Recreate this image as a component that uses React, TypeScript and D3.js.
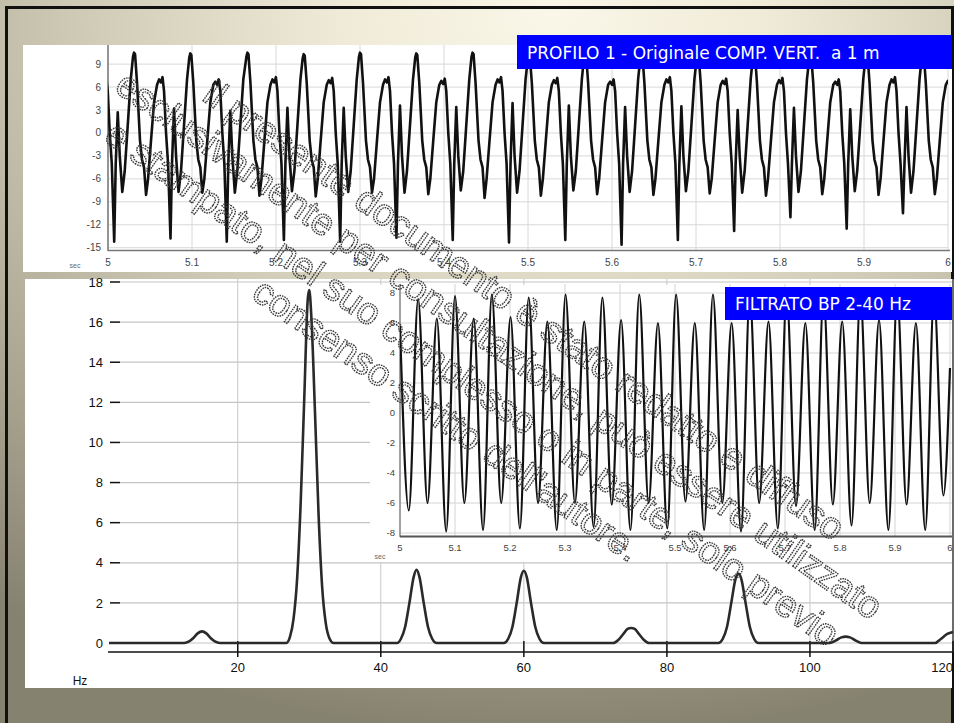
import React from 'react';
import * as d3 from 'd3';

// ---------------- DATA ----------------
// Top panel: raw vertical component (time in s, amplitude)
const rawTicksX = [5, 5.1, 5.2, 5.3, 5.4, 5.5, 5.6, 5.7, 5.8, 5.9, 6];
const rawTickLabelsX = ['5', '5.1', '5.2', '5.3', '5.4', '5.5', '5.6', '5.7', '5.8', '5.9', '6'];
const rawTicksY = [-15, -12, -9, -6, -3, 0, 3, 6, 9];

// times of the tall peaks of each 15 Hz cycle, and the key levels read in each cycle
const rawCycleTimes = [4.964, 5.031, 5.098, 5.166, 5.233, 5.300, 5.367, 5.434, 5.501, 5.568, 5.635, 5.702, 5.769, 5.836, 5.903, 5.970];
const rawTall = [10.3, 10.5, 10.4, 10.5, 10.3, 10.5, 10.4, 10.5, 10.2, 10.5, 10.4, 10.3, 10.5, 10.2, 10.4, 10.5];
const rawMid = [7.2, 7.3, 7.0, 7.3, 7.2, 7.3, 7.1, 7.3, 7.2, 7.0, 7.3, 7.1, 7.2, 7.0, 7.3, 7.1];
const rawDeep = [-14.2, -13.8, -14.2, -14.0, -14.2, -13.7, -14.0, -14.3, -14.0, -14.6, -14.0, -12.8, -11.0, -12.5, -10.5, -11.5];
const rawUp = [2.7, 3.2, 2.9, 3.3, 3.3, 3.6, 3.4, 3.9, 3.6, 3.4, 3.5, 3.0, 3.3, 3.1, 3.4, 3.0];
const rawTroughA = [-8.0, -8.1, -7.8, -8.2, -8.3, -7.8, -8.0, -8.5, -8.2, -8.0, -8.1, -7.9, -8.2, -8.0, -8.1, -8.0];
const rawTroughB = [-7.7, -7.7, -7.8, -7.6, -7.7, -7.8, -7.5, -7.8, -7.5, -7.7, -7.6, -7.8, -7.7, -7.6, -7.8, -7.7];
// vertices of one cycle: [ms after tall peak, level key ('' = fixed), value / offset]
const rawCycleShape: [number, string, number][] = [
  [-1.2, 'tall', -0.5], [0, 'tall', 0], [1.2, 'tall', -0.2], [3.6, '', 6.5], [7.1, '', -1],
  [9.5, '', -3.5], [11.9, '', -4.5], [14.3, 'tA', 0], [16.7, '', -6], [20.2, '', -1],
  [23.8, '', 4], [27.4, '', 6.3], [29.8, 'mid', -0.3], [32.1, 'mid', -0.7], [33.9, 'mid', 0],
  [35.7, '', 5.5], [38.1, '', 0], [40.5, '', -4], [43.4, 'deep', 0], [45.2, '', -4],
  [47.6, 'up', 0], [50.0, '', -3], [53.0, 'tB', 0], [55.9, '', -5], [59.5, '', 1], [63.1, '', 7],
];

// Bottom panel: spectrum (Hz, amplitude)
const specTicksX = [20, 40, 60, 80, 100, 120];
const specTicksY = [0, 2, 4, 6, 8, 10, 12, 14, 16, 18];
const spectrumHz = [
  2, 12.5, 13.2, 13.8, 14.4, 15, 15.6, 16.2, 16.8, 17.5,
  26.8, 27.3, 27.8, 28.3, 28.8, 29.3, 29.8, 30.0, 30.3, 30.8, 31.3, 31.8, 32.3, 32.8, 33.4,
  42.3, 42.8, 43.4, 44.0, 44.6, 45.0, 45.4, 46.0, 46.6, 47.2, 47.8,
  57.2, 57.8, 58.4, 59.0, 59.6, 60.0, 60.4, 61.0, 61.6, 62.2, 62.8,
  72.5, 73.2, 73.9, 74.5, 75.0, 75.5, 76.1, 76.8, 77.5,
  87.2, 87.8, 88.4, 89.0, 89.6, 90.0, 90.4, 91.0, 91.6, 92.2, 92.8,
  102.8, 103.6, 104.4, 105.0, 105.6, 106.4, 107.2,
  117.5, 118.3, 119.2, 120,
];
const spectrumAmp = [
  0, 0, 0.08, 0.25, 0.48, 0.58, 0.48, 0.25, 0.08, 0,
  0, 0.3, 1.2, 3.2, 7.0, 12.2, 17.2, 17.6, 16.2, 11.5, 6.4, 2.8, 1.0, 0.25, 0,
  0, 0.2, 0.8, 2.0, 3.3, 3.65, 3.3, 2.0, 0.8, 0.2, 0,
  0, 0.2, 0.8, 2.0, 3.3, 3.6, 3.3, 2.0, 0.8, 0.2, 0,
  0, 0.15, 0.45, 0.7, 0.75, 0.7, 0.45, 0.15, 0,
  0, 0.2, 0.8, 2.0, 3.2, 3.45, 3.2, 2.0, 0.8, 0.2, 0,
  0, 0.12, 0.28, 0.32, 0.28, 0.12, 0,
  0, 0.2, 0.45, 0.55,
];

// Inset: band-pass filtered signal (extrema)
const filtTicksY = [-8, -6, -4, -2, 0, 2, 4, 6, 8];
const filtTimes = [
  5.0, 5.016, 5.033, 5.050, 5.067, 5.084, 5.100, 5.117, 5.134, 5.151, 5.167, 5.184, 5.201, 5.218, 5.234,
  5.251, 5.268, 5.285, 5.301, 5.318, 5.335, 5.352, 5.368, 5.385, 5.402, 5.419, 5.435, 5.452, 5.469, 5.486,
  5.502, 5.519, 5.536, 5.553, 5.569, 5.586, 5.603, 5.620, 5.636, 5.653, 5.670, 5.687, 5.703, 5.720, 5.737,
  5.754, 5.770, 5.787, 5.804, 5.821, 5.837, 5.854, 5.871, 5.888, 5.904, 5.921, 5.938, 5.955, 5.971, 5.988, 6.0,
];
const filtValues = [
  5.8, -6.5, 7.6, -6.0, 6.3, -7.9, 7.8, -6.0, 6.3, -7.8, 7.9, -6.0, 6.4, -7.7, 7.7,
  -6.0, 6.1, -7.8, 7.9, -6.0, 6.1, -7.6, 7.7, -6.1, 6.2, -7.8, 7.9, -6.0, 6.0, -7.7,
  7.9, -5.9, 6.0, -7.8, 7.9, -6.0, 6.0, -7.9, 7.8, -6.0, 6.1, -7.7, 7.9, -6.2, 6.0,
  -7.8, 7.8, -6.1, 6.1, -7.5, 7.8, -6.0, 6.2, -7.8, 7.9, -6.1, 6.0, -7.8, 7.8, -5.5, 3.0,
];

const titleTop = 'PROFILO 1 - Originale COMP. VERT.  a 1 m';
const titleFilt = 'FILTRATO BP 2-40 Hz';
const watermarkLines = [
  'Il presente documento è stato redatto e diffuso',
  'esclusivamente per consultazione, può essere utilizzato',
  'e stampato, nel suo complesso o in parte, solo previo',
  "consenso scritto dell'autore.",
];

// ---------------- BUILD ----------------
function buildRaw(): [number, number][] {
  const pts: [number, number][] = [];
  const levels: Record<string, number[]> = {
    tall: rawTall, mid: rawMid, deep: rawDeep, up: rawUp, tA: rawTroughA, tB: rawTroughB,
  };
  rawCycleTimes.forEach((t0, i) => {
    rawCycleShape.forEach(([ms, key, v]) => {
      const val = key ? levels[key][i] + v : v;
      pts.push([t0 + ms / 1000, val]);
    });
  });
  pts.sort((a, b) => a[0] - b[0]);
  return pts;
}

export default function App() {
  // scales
  const xRaw = d3.scaleLinear().domain([5, 6]).range([108, 948]);
  const yRaw = d3.scaleLinear().domain([-15.3, 11.5]).range([250, 45]);
  const xSp = d3.scaleLinear().domain([2, 120]).range([109, 953]);
  const ySp = d3.scaleLinear().domain([0, 18]).range([643, 282]);
  const xIn = d3.scaleLinear().domain([5, 6]).range([400, 950]);
  const yIn = d3.scaleLinear().domain([-8, 8]).range([533, 293]);

  const rawPts = buildRaw();
  const rawPath = d3.line<[number, number]>().x(d => xRaw(d[0])).y(d => yRaw(d[1]))(rawPts) || '';
  const specPath = d3.line<number>()
    .x((_, i) => xSp(spectrumHz[i]))
    .y(d => ySp(d))
    .curve(d3.curveMonotoneX)(spectrumAmp) || '';
  const filtPath = d3.line<number>()
    .x((_, i) => xIn(filtTimes[i]))
    .y(d => yIn(d))
    .curve(d3.curveMonotoneX)(filtValues) || '';

  const deg = 35;
  const rad = (deg * Math.PI) / 180;
  const dx = Math.cos(rad), dy = Math.sin(rad);
  const nx = -Math.sin(rad), ny = Math.cos(rad);
  const along = 607;
  const normals = [-47, -4, 43, 87];

  const tickFont = "'Liberation Sans', Arial, sans-serif";

  return (
    <svg width={954} height={723} style={{ position: 'absolute', left: 0, top: 0 }}
      xmlns="http://www.w3.org/2000/svg">
      <defs>
        <radialGradient id="bg" cx="0.58" cy="0.02" r="1.0" fx="0.58" fy="0.02">
          <stop offset="0" stopColor="#faf7e9" />
          <stop offset="0.22" stopColor="#f0ebd8" />
          <stop offset="0.5" stopColor="#cfcab5" />
          <stop offset="0.78" stopColor="#a6a28e" />
          <stop offset="1" stopColor="#868270" />
        </radialGradient>
        <filter id="gray" x="0" y="0" width="954" height="723" filterUnits="userSpaceOnUse">
          <feColorMatrix type="saturate" values="0" />
        </filter>
        <clipPath id="clipRaw"><rect x={108} y={45} width={840} height={205} /></clipPath>
        <clipPath id="clipIn"><rect x={400} y={284} width={552} height={252} /></clipPath>
        <clipPath id="clipSp"><rect x={109} y={279} width={845} height={373} /></clipPath>
      </defs>

      {/* slide background */}
      <rect x={0} y={0} width={954} height={723} fill="url(#bg)" />
      <rect x={6.5} y={7.5} width={946} height={730} fill="none" stroke="#111" strokeWidth={3} />

      {/* ---------- TOP PANEL ---------- */}
      <rect x={23} y={45} width={929} height={227} fill="#fff" />
      {rawTicksY.map(v => (
        <line key={'rgy' + v} x1={108} x2={948} y1={yRaw(v)} y2={yRaw(v)} stroke="#d8d8d8" strokeWidth={1} />
      ))}
      {rawTicksX.map(v => (
        <line key={'rgx' + v} x1={xRaw(v)} x2={xRaw(v)} y1={45} y2={250} stroke="#d8d8d8" strokeWidth={1} />
      ))}
      <line x1={108} x2={108} y1={45} y2={251} stroke="#777" strokeWidth={1.5} />
      <line x1={108} x2={950} y1={250.5} y2={250.5} stroke="#777" strokeWidth={1.5} />
      {rawTicksY.map(v => (
        <text key={'rty' + v} x={101} y={yRaw(v)} dy="0.35em" textAnchor="end" fontSize={10}
          fontFamily={tickFont} fill="#444">{v}</text>
      ))}
      {rawTicksX.map((v, i) => (
        <text key={'rtx' + v} x={xRaw(v)} y={262} dy="0.35em" textAnchor="middle" fontSize={10}
          fontFamily={tickFont} fill="#444">{rawTickLabelsX[i]}</text>
      ))}
      <text x={75} y={268} textAnchor="middle" fontSize={7} fontFamily={tickFont} fill="#666">sec</text>
      <path d={rawPath} fill="none" stroke="#111" strokeWidth={2.6} strokeLinejoin="round"
        clipPath="url(#clipRaw)" />
      <rect x={517} y={35} width={435} height={34} fill="#0000ff" />
      <text x={527} y={59} fontSize={17} fontFamily="'DejaVu Sans', Verdana, sans-serif" fill="#fff"
        style={{ whiteSpace: 'pre' }}>{titleTop}</text>

      {/* ---------- BOTTOM PANEL (spectrum) ---------- */}
      <rect x={25} y={279} width={927} height={409} fill="#fff" />
      {specTicksY.map(v => (
        <line key={'sgy' + v} x1={120} x2={952} y1={ySp(v)} y2={ySp(v)} stroke="#c4c4c4" strokeWidth={1.2} />
      ))}
      {specTicksX.map(v => (
        <line key={'sgx' + v} x1={xSp(v)} x2={xSp(v)} y1={279} y2={652} stroke="#c8c8c8" strokeWidth={1} />
      ))}
      {specTicksY.map(v => (
        <line key={'sty' + v} x1={110} x2={120} y1={ySp(v)} y2={ySp(v)} stroke="#111" strokeWidth={1.5} />
      ))}
      {specTicksY.map(v => (
        <text key={'sly' + v} x={103} y={ySp(v)} dy="0.36em" textAnchor="end" fontSize={13}
          fontFamily={tickFont} fill="#111">{v}</text>
      ))}
      <line x1={108} x2={952} y1={652} y2={652} stroke="#111" strokeWidth={1.5} />
      {specTicksX.map(v => (
        <line key={'stx' + v} x1={xSp(v)} x2={xSp(v)} y1={641} y2={657} stroke="#111" strokeWidth={1.5} />
      ))}
      {specTicksX.map((v, i) => (
        <text key={'slx' + v} x={i === specTicksX.length - 1 ? 953 : xSp(v)} y={667} dy="0.36em"
          textAnchor={i === specTicksX.length - 1 ? 'end' : 'middle'} fontSize={13}
          fontFamily={tickFont} fill="#111">{v}</text>
      ))}
      <text x={80} y={681} dy="0.36em" textAnchor="middle" fontSize={12} fontFamily={tickFont} fill="#111">Hz</text>
      <path d={specPath} fill="none" stroke="#2a2a2a" strokeWidth={2.6} strokeLinejoin="round"
        clipPath="url(#clipSp)" />

      {/* ---------- INSET (filtered) ---------- */}
      <rect x={370} y={285} width={582} height={277} fill="#fff" />
      {filtTicksY.map(v => (
        <line key={'fgy' + v} x1={400} x2={952} y1={yIn(v)} y2={yIn(v)} stroke="#d4d4d4" strokeWidth={1} />
      ))}
      {rawTicksX.map(v => (
        <line key={'fgx' + v} x1={xIn(v)} x2={xIn(v)} y1={284} y2={536} stroke="#d4d4d4" strokeWidth={1} />
      ))}
      <line x1={400} x2={400} y1={284} y2={537} stroke="#888" strokeWidth={1.5} />
      <line x1={400} x2={952} y1={536.5} y2={536.5} stroke="#555" strokeWidth={2} />
      {filtTicksY.map(v => (
        <text key={'fty' + v} x={395} y={yIn(v)} dy="0.35em" textAnchor="end" fontSize={9.5}
          fontFamily={tickFont} fill="#444">{v}</text>
      ))}
      {rawTicksX.map((v, i) => (
        <text key={'ftx' + v} x={xIn(v)} y={548} dy="0.35em" textAnchor="middle" fontSize={9.5}
          fontFamily={tickFont} fill="#444">{rawTickLabelsX[i]}</text>
      ))}
      <text x={380} y={559} textAnchor="middle" fontSize={7} fontFamily={tickFont} fill="#666">sec</text>
      <path d={filtPath} fill="none" stroke="#111" strokeWidth={2.2} strokeLinejoin="round"
        clipPath="url(#clipIn)" />
      <rect x={725} y={287} width={227} height={33} fill="#0000ff" />
      <text x={735} y={310} fontSize={17} fontFamily="'DejaVu Sans', Verdana, sans-serif" fill="#fff">{titleFilt}</text>

      {/* ---------- WATERMARK ---------- */}
      <g filter="url(#gray)">
        {watermarkLines.map((line, i) => {
          const cx = along * dx + normals[i] * nx;
          const cy = along * dy + normals[i] * ny;
          return (
            <text key={'wm' + i} transform={`translate(${cx},${cy}) rotate(${deg})`} textAnchor="middle"
              dy="0.35em" fontSize={37.5} fontFamily="'Liberation Sans', Arial, sans-serif"
              fill="none" stroke="#3a3a3a" strokeWidth={1.4} strokeDasharray="1.6 0.9">{line}</text>
          );
        })}
      </g>
    </svg>
  );
}
